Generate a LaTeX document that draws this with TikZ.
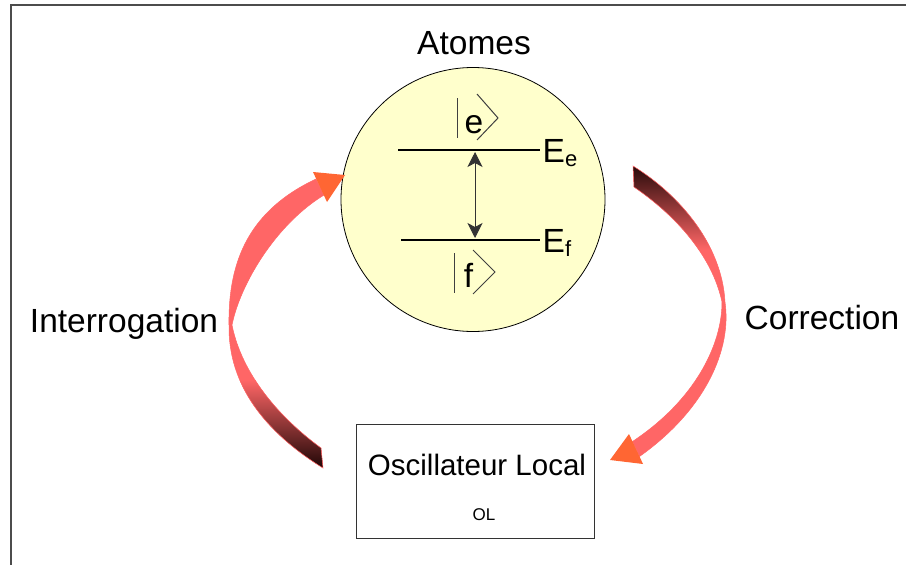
\documentclass[tikz,border=0pt]{standalone}
\usepackage{fontspec}
\setmainfont{Liberation Sans}
\usepackage{tikz}
\usetikzlibrary{arrows.meta}

\definecolor{ribred}{HTML}{FF6666}
\definecolor{ribdark}{HTML}{1A0404}
\definecolor{tipred}{HTML}{FF6633}
\definecolor{atomfill}{HTML}{FFFFCC}

\def\ribbonleft{(323,468) .. controls (265,432) and (228,385) .. (229,325) .. controls (228,260) and (250,210) .. (316,179) -- (324,195) .. controls (275,225) and (240,285) .. (232,325) .. controls (242,375) and (280,418) .. (321,448) -- cycle}
\def\ribbonright{(633,166) .. controls (680,195) and (722,245) .. (725,302) .. controls (732,350) and (705,410) .. (639.5,456.5) -- (632.5,441.5) .. controls (695,400) and (722,345) .. (722,302) .. controls (712,255) and (675,215) .. (634,187) -- cycle}

\begin{document}
\begin{tikzpicture}[x=1pt,y=-1pt,>={Stealth[length=15pt,width=15pt,inset=4pt]},
	big label/.style={font=\fontsize{33.5}{40}\selectfont,inner sep=0pt},
	box label/.style={font=\fontsize{29.5}{36}\selectfont,inner sep=0pt},
	small label/.style={font=\fontsize{17}{20}\selectfont,inner sep=0pt},
	ket/.style={line width=1pt,black!75},
	level/.style={line width=1.3pt}]

	\useasboundingbox (0,0) rectangle (906,565);
	\draw[line width=1.5pt,black!70] (11,565) -- (11,5) -- (906,5);

	\node[circle,draw,line width=.8pt,fill=atomfill,minimum size=264pt,inner sep=0pt] (atoms) at (473,199.5) {};
	\node[big label,anchor=base] (title) at (474,54) {Atomes};

	\coordinate (eL) at (398,150);
	\coordinate (eR) at (540,150);
	\coordinate (fL) at (401,240);
	\coordinate (fR) at (540,240);
	\coordinate (up) at (475,152);
	\coordinate (dn) at (475,238);
	\draw[level] (eL) -- (eR);
	\draw[level] (fL) -- (fR);
	\draw[<->,line width=.9pt,black!80] (up) -- (dn);
	\node[big label,anchor=base west] (Ee) at (542.5,162) {E{\fontsize{22}{26}\selectfont\raisebox{-4pt}{e}}};
	\node[big label,anchor=base west] (Ef) at (542.5,252) {E{\fontsize{22}{26}\selectfont\raisebox{-4pt}{f}}};

	\node[big label,anchor=base] (ket e) at (474,133) {e};
	\draw[ket] (457,98) -- (457,138);
	\draw[ket] (477,94) -- (498,118) -- (477,140);
	\node[big label,anchor=base] (ket f) at (468.5,287) {f};
	\draw[ket] (454,253) -- (454,293);
	\draw[ket] (473,250) -- (495,272) -- (473,294);

	\node[draw,line width=.8pt,black!80,minimum width=238pt,minimum height=114pt] (ol) at (475,481) {};
	\node[box label,anchor=base] (ol name) at (477,475) {Oscillateur Local};
	\node[small label,anchor=base] (ol short) at (484,520) {OL};

	\node[big label,anchor=base] (interrogation) at (124,332) {Interrogation};
	\node[big label,anchor=base] (correction) at (822,329) {Correction};

	\fill[ribred] \ribbonleft;
	\begin{scope}
		\clip \ribbonleft;
		\shade[top color=ribred,bottom color=ribdark] (220,380) rectangle (330,470);
	\end{scope}
	\draw[ribred,line width=.5pt] \ribbonleft;
	\fill[tipred] (313,172) -- (345,175) -- (327,202) -- cycle;

	\fill[ribred] \ribbonright;
	\begin{scope}
		\clip \ribbonright;
		\shade[top color=ribdark,bottom color=ribred] (625,160) rectangle (735,250);
	\end{scope}
	\draw[ribred,line width=.5pt] \ribbonright;
	\fill[tipred] (610,460) -- (629,434) -- (643,464) -- cycle;

\end{tikzpicture}
\end{document}
